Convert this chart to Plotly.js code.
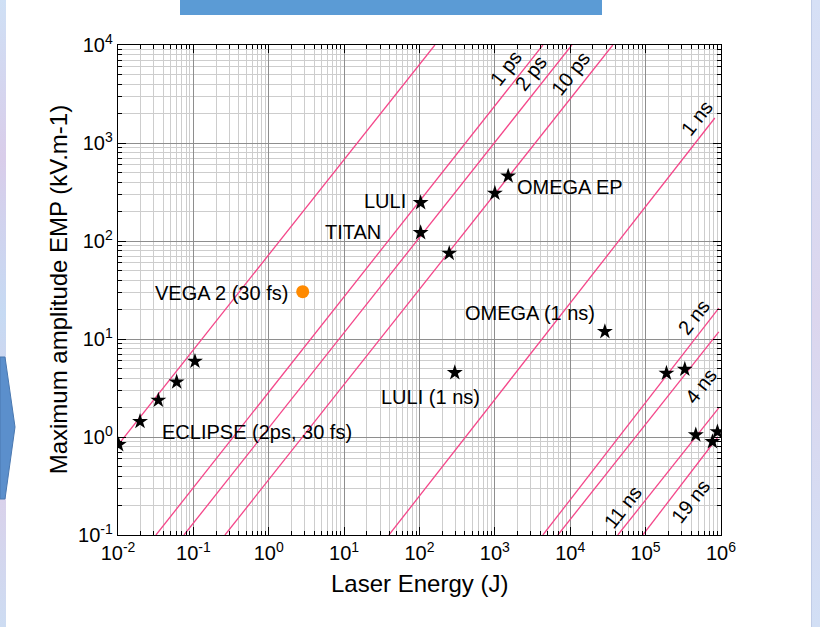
<!DOCTYPE html>
<html>
<head>
<meta charset="utf-8">
<script src="https://cdn.plot.ly/plotly-3.0.1.min.js"></script>
<style>
html,body{margin:0;padding:0;background:#ffffff;width:820px;height:627px;overflow:hidden;}
#decoLeft{position:absolute;left:0;top:0;width:6px;height:627px;
  background:linear-gradient(180deg,#cfe0f5 0%,#d9cdea 25%,#c6daf3 50%,#dccfe9 75%,#cddcf2 100%);}
#decoRight{position:absolute;left:811px;top:0;width:9px;height:627px;
  background:linear-gradient(180deg,#d6e0f6 0%,#dcd6ee 50%,#d2dff5 100%);border-left:1px solid #c0cce6;}
#decoTop{position:absolute;left:180px;top:0;width:422px;height:15px;background:#5b9bd5;}
#decoArrow{position:absolute;left:0;top:352px;}
#chart{position:absolute;left:0;top:0;width:820px;height:627px;}
</style>
</head>
<body>
<div id="decoLeft"></div>
<div id="decoRight"></div>
<div id="decoTop"></div>
<svg id="decoArrow" width="20" height="150"><polygon points="0,5 5,5 15,75 5,147 0,147" fill="#5b8fcc" stroke="#4a78b0" stroke-width="1"/></svg>
<div id="chart"></div>
<script>
// ---- data ----
const eclipseE = [0.0102, 0.0196, 0.0343, 0.060, 0.105];
const eclipseY = [0.835, 1.44, 2.37, 3.64, 5.92];

const starE = [103.5, 103.5, 248, 1000, 1500, 294, 28800, 1.89e5, 3.31e5, 4.63e5, 7.7e5, 8.97e5];
const starY = [246, 121.6, 74.8, 307, 460, 4.53, 11.9, 4.47, 4.91, 1.05, 0.895, 1.13];

const vegaE = [2.82];
const vegaY = [30.4];

const lineNames = ['30 fs', '1 ps', '2 ps', '10 ps', '1 ns', '2 ns', '4 ns', '11 ns', '19 ns'];
const lineE0 = [0.01, 0.0319, 0.075, 0.2625, 39.3, 4335, 6855, 42760, 91800];
const lineY0 = [0.828, 0.1, 0.1, 0.1, 0.1, 0.1, 0.1, 0.1, 0.1];
const lineE1 = [160, 4335, 10500, 36700, 8.28e5, 9.35e5, 9.35e5, 9.35e5, 9.08e5];
const lineY1 = [1e4, 1e4, 1e4, 1e4, 1800, 20.7, 11.8, 1.98, 1.0];

const lineLabels = ['1 ps', '2 ps', '10 ps', '1 ns', '2 ns', '4 ns', '11 ns', '19 ns'];
const pointLabels = ['LULI', 'TITAN', 'VEGA 2 (30 fs)', 'ECLIPSE (2ps, 30 fs)', 'OMEGA EP', 'OMEGA (1 ns)', 'LULI (1 ns)'];

const xExponents = [-2, -1, 0, 1, 2, 3, 4, 5, 6];
const yExponents = [-1, 0, 1, 2, 3, 4];

const xTitle = 'Laser Energy (J)';
const yTitle = 'Maximum amplitude EMP (kV.m-1)';

// ---- styling / placement ----
const FONT = 'Liberation Sans, Arial, sans-serif';
const PINK = '#f4478a';

const traces = [];
for (let i = 0; i < lineNames.length; i++) {
  traces.push({
    type: 'scatter', mode: 'lines', name: lineNames[i],
    x: [lineE0[i], lineE1[i]], y: [lineY0[i], lineY1[i]],
    line: {color: PINK, width: 1.3}, showlegend: false, hoverinfo: 'skip'
  });
}
traces.push({
  type: 'scatter', mode: 'markers', x: eclipseE, y: eclipseY,
  marker: {symbol: 'star', size: 12, color: '#000'}, showlegend: false
});
traces.push({
  type: 'scatter', mode: 'markers', x: starE, y: starY,
  marker: {symbol: 'star', size: 12, color: '#000'}, showlegend: false
});
traces.push({
  type: 'scatter', mode: 'markers', x: vegaE, y: vegaY,
  marker: {symbol: 'circle', size: 13, color: '#ff8a00'}, showlegend: false
});

// label placement (log10 coordinates)
const lineLabelPos = [
  [3.146, 3.765], [3.477, 3.714], [4.008, 3.714], [5.679, 3.255],
  [5.639, 1.224], [5.732, 0.520], [4.698, -0.714], [5.599, -0.653]
];
const pointLabelPos = [
  [1.846, 2.408, 'right'], [1.515, 2.092, 'right'], [0.281, 1.469, 'right'],
  [-1.443, 0.051, 'left'], [3.265, 2.551, 'left'], [2.576, 1.265, 'left'],
  [2.828, 0.408, 'right']
];

const annotations = [];
lineLabels.forEach((t, i) => {
  annotations.push({
    text: t, x: lineLabelPos[i][0], y: lineLabelPos[i][1], xref: 'x', yref: 'y',
    showarrow: false, textangle: -52, xanchor: 'center', yanchor: 'middle',
    font: {family: FONT, size: 20, color: '#000'}
  });
});
pointLabels.forEach((t, i) => {
  annotations.push({
    text: t, x: pointLabelPos[i][0], y: pointLabelPos[i][1], xref: 'x', yref: 'y',
    showarrow: false, xanchor: pointLabelPos[i][2], yanchor: 'middle',
    font: {family: FONT, size: 20, color: '#000'}
  });
});
// axis titles
annotations.push({
  text: xTitle, xref: 'paper', yref: 'paper', x: 0.5, y: -0.098,
  xanchor: 'center', yanchor: 'middle', showarrow: false,
  font: {family: FONT, size: 24, color: '#000'}
});
annotations.push({
  text: yTitle, xref: 'paper', yref: 'paper', x: -0.099, y: 0.5,
  xanchor: 'center', yanchor: 'middle', showarrow: false, textangle: -90,
  font: {family: FONT, size: 24, color: '#000'}
});

function minorVals(exps) {
  const v = [];
  for (let k = 0; k < exps.length - 1; k++) {
    for (let m = 2; m <= 9; m++) v.push(m * Math.pow(10, exps[k]));
  }
  return v;
}

function axis(exps) {
  return {
    type: 'log', range: [exps[0], exps[exps.length - 1]],
    tickmode: 'array',
    tickvals: exps.map(e => Math.pow(10, e)),
    ticktext: exps.map(e => '10<sup>' + e + '</sup>'),
    showgrid: true, gridcolor: '#8e8e8e', gridwidth: 1,
    ticks: 'inside', ticklen: 8, tickcolor: '#000', tickwidth: 1,
    minor: {tickmode: 'array', tickvals: minorVals(exps), showgrid: true,
            gridcolor: '#cdcdcd', gridwidth: 1,
            ticks: 'inside', ticklen: 4, tickcolor: '#000', tickwidth: 1},
    showline: true, linecolor: '#000', linewidth: 1.2, mirror: 'all',
    zeroline: false,
    tickfont: {family: FONT, size: 20, color: '#000'},
    automargin: false
  };
}

const layout = {
  width: 820, height: 627,
  margin: {l: 118, r: 99, t: 45, b: 92},
  paper_bgcolor: 'rgba(0,0,0,0)', plot_bgcolor: '#ffffff',
  xaxis: axis(xExponents),
  yaxis: axis(yExponents),
  annotations: annotations,
  showlegend: false,
  font: {family: FONT}
};

Plotly.newPlot('chart', traces, layout, {staticPlot: true, displayModeBar: false});
</script>
</body>
</html>
